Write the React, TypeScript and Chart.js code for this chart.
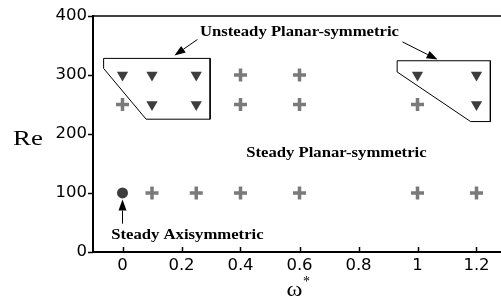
import React, { useEffect, useRef } from "react";
import { Chart, registerables } from "chart.js";
Chart.register(...registerables);

// Steady planar-symmetric cases (+)
const plusX = [0.4, 0.6, 0, 0.4, 0.6, 1.0, 0.1, 0.25, 0.4, 0.6, 1.0, 1.2];
const plusY = [300, 300, 250, 250, 250, 250, 100, 100, 100, 100, 100, 100];
// Unsteady planar-symmetric cases (down triangles)
const triX = [0, 0.1, 0.25, 0.1, 0.25, 1.0, 1.2, 1.2];
const triY = [300, 300, 300, 250, 250, 300, 300, 250];
// Steady axisymmetric case (circle)
const circX = [0];
const circY = [100];
// Region outlines
const leftBoxX = [-0.064, 0.297, 0.297, 0.08, -0.064, -0.064];
const leftBoxY = [328, 328, 225, 225, 311, 328];
const rightBoxX = [0.931, 1.247, 1.247, 1.18, 0.931, 0.931];
const rightBoxY = [324, 324, 221, 221, 305, 324];
// Axes
const xTicks = [0, 0.2, 0.4, 0.6, 0.8, 1, 1.2];
const yTicks = [0, 100, 200, 300, 400];
const xMin = -0.1;
const xMax = 1.3;
const yMin = 0;
const yMax = 400;
// Annotations (data coordinates)
const labelTexts = ["Unsteady Planar-symmetric", "Steady Planar-symmetric", "Steady Axisymmetric"];
const labelX = [0.6, 0.725, 0.22];
const labelY = [372, 167, 29];
const arrowFromX = [0.254, 0.949, 0];
const arrowFromY = [360, 356, 48];
const arrowToX = [0.176, 1.068, 0];
const arrowToY = [333, 326, 89];

const zip = (xs: number[], ys: number[]) => xs.map((x, i) => ({ x, y: ys[i] }));

const drawScaled = (ctx: any, text: string, cx: number, cy: number, sx: number) => {
  ctx.save();
  ctx.translate(cx, cy);
  ctx.scale(sx, 1);
  ctx.fillText(text, 0, 0);
  ctx.restore();
};

const overlay = {
  id: "overlay",
  afterDraw(chart: any) {
    const { ctx, chartArea, scales } = chart;
    const xs = scales.x;
    const ys = scales.y;
    ctx.save();
    ctx.strokeStyle = "#000";
    ctx.lineWidth = 1.5;
    ctx.beginPath();
    ctx.moveTo(chartArea.left, chartArea.top);
    ctx.lineTo(chartArea.right, chartArea.top);
    ctx.stroke();
    yTicks.forEach((v) => {
      const py = Math.round(ys.getPixelForValue(v)) + 0.5;
      ctx.beginPath();
      ctx.moveTo(chartArea.left - 5, py);
      ctx.lineTo(chartArea.left, py);
      ctx.stroke();
    });
    xTicks.forEach((v) => {
      const px = Math.round(xs.getPixelForValue(v)) + 0.5;
      ctx.beginPath();
      ctx.moveTo(px, chartArea.bottom);
      ctx.lineTo(px, chartArea.bottom - 5);
      ctx.stroke();
    });
    ctx.fillStyle = "#000";
    ctx.lineWidth = 1;
    arrowFromX.forEach((_, i) => {
      const x0 = xs.getPixelForValue(arrowFromX[i]);
      const y0 = ys.getPixelForValue(arrowFromY[i]);
      const x1 = xs.getPixelForValue(arrowToX[i]);
      const y1 = ys.getPixelForValue(arrowToY[i]);
      const ang = Math.atan2(y1 - y0, x1 - x0);
      const bx = x1 - Math.cos(ang) * 11;
      const by = y1 - Math.sin(ang) * 11;
      ctx.beginPath();
      ctx.moveTo(x0, y0);
      ctx.lineTo(bx, by);
      ctx.stroke();
      ctx.beginPath();
      ctx.moveTo(x1, y1);
      ctx.lineTo(bx - Math.sin(ang) * 4, by + Math.cos(ang) * 4);
      ctx.lineTo(bx + Math.sin(ang) * 4, by - Math.cos(ang) * 4);
      ctx.closePath();
      ctx.fill();
    });
    ctx.beginPath();
    ctx.font = "bold 14.5px 'Liberation Serif'";
    ctx.textAlign = "center";
    ctx.textBaseline = "middle";
    labelTexts.forEach((t, i) => {
      drawScaled(ctx, t, xs.getPixelForValue(labelX[i]), ys.getPixelForValue(labelY[i]), 1.15);
    });
    ctx.font = "22px 'Liberation Serif'";
    ctx.textBaseline = "alphabetic";
    drawScaled(ctx, "Re", chartArea.left - 65, ys.getPixelForValue(182), 1.22);
    const wx = xs.getPixelForValue(0.583);
    const wy = chartArea.bottom + 44;
    drawScaled(ctx, "ω", wx, wy, 1.1);
    ctx.font = "14px 'Liberation Serif'";
    drawScaled(ctx, "*", wx + 12, wy - 10, 1);
    ctx.restore();
  },
};

export default function App() {
  const ref = useRef<HTMLCanvasElement>(null);
  useEffect(() => {
    if (!ref.current) return;
    const chart = new Chart(ref.current, {
      type: "scatter",
      data: {
        datasets: [
          { data: zip(leftBoxX, leftBoxY), showLine: true, borderColor: "#000", borderWidth: 1, pointRadius: 0, fill: false },
          { data: zip(rightBoxX, rightBoxY), showLine: true, borderColor: "#000", borderWidth: 1, pointRadius: 0, fill: false },
          { data: zip(plusX, plusY), pointStyle: "cross", pointRadius: 6.5, borderWidth: 3.5, borderColor: "#7a7a7a", backgroundColor: "#7a7a7a" },
          { data: zip(triX, triY), pointStyle: "triangle", rotation: 180, pointRadius: 6.5, borderWidth: 0, backgroundColor: "#3d3d3d", borderColor: "#3d3d3d" },
          { data: zip(circX, circY), pointStyle: "circle", pointRadius: 5.5, borderWidth: 0, backgroundColor: "#3d3d3d", borderColor: "#3d3d3d" },
        ],
      },
      options: {
        animation: false,
        responsive: false,
        maintainAspectRatio: false,
        events: [],
        layout: { autoPadding: false, padding: { top: 13, left: 0, right: 4, bottom: 0 } },
        plugins: { legend: { display: false }, tooltip: { enabled: false } },
        scales: {
          x: {
            type: "linear", min: xMin, max: xMax,
            afterBuildTicks: (s: any) => { s.ticks = xTicks.map((v) => ({ value: v })); },
            afterFit: (s: any) => { s.height = 52; },
            grid: { display: false, drawTicks: false },
            border: { display: true, color: "#000", width: 2 },
            ticks: { padding: 4, color: "#000", font: { family: "'DejaVu Sans'", size: 16.5 }, maxRotation: 0, autoSkip: false,
              callback: (v: any) => String(Math.round(Number(v) * 10) / 10) },
          },
          y: {
            type: "linear", min: yMin, max: yMax,
            afterBuildTicks: (s: any) => { s.ticks = yTicks.map((v) => ({ value: v })); },
            afterFit: (s: any) => { s.width = 93; },
            grid: { display: false, drawTicks: false },
            border: { display: true, color: "#000", width: 2 },
            ticks: { padding: 6, color: "#000", font: { family: "'DejaVu Sans'", size: 16.5 }, callback: (v: any) => String(v) },
          },
        },
      },
      plugins: [overlay],
    } as any);
    return () => chart.destroy();
  }, []);
  return (
    <div style={{ position: "absolute", left: 0, top: 0, width: 501, height: 304, overflow: "hidden" }}>
      <canvas ref={ref} width={510} height={304} style={{ width: 510, height: 304, display: "block" }} />
    </div>
  );
}
